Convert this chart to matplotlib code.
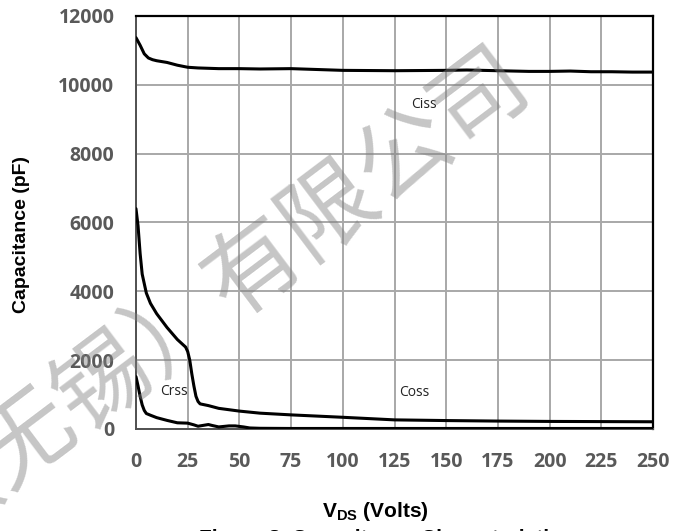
import numpy as np
import matplotlib.pyplot as plt

# capacitance vs drain-source voltage ----
ciss_v = [0, 2, 4, 6, 8, 10, 15, 20, 25, 30, 40, 50, 60, 75, 90, 100, 125,
          150, 160, 175, 190, 200, 210, 220, 230, 240, 250]
ciss_pf = [11370, 11150, 10900, 10780, 10730, 10700, 10650, 10570, 10510,
           10490, 10470, 10470, 10460, 10470, 10440, 10420, 10410, 10420,
           10430, 10410, 10390, 10390, 10400, 10380, 10380, 10370, 10370]

coss_v = [0, 1, 2, 3, 5, 7, 10, 15, 20, 24, 25, 26, 27, 28, 29, 30, 31, 35,
          40, 50, 60, 75, 100, 125, 150, 175, 200, 225, 250]
coss_pf = [6400, 5900, 5100, 4500, 3950, 3650, 3350, 2950, 2600, 2380, 2250,
           2000, 1600, 1250, 950, 800, 730, 680, 600, 520, 460, 410, 340,
           265, 245, 230, 220, 215, 210]

crss_v = [0, 1, 2, 3, 4, 5, 7, 10, 15, 20, 25, 28, 30, 33, 35, 37, 40, 45,
          48, 52, 55, 60, 75, 100, 150, 200, 250]
crss_pf = [1520, 1250, 950, 700, 540, 450, 400, 330, 250, 180, 170, 120, 80,
           110, 130, 100, 60, 90, 90, 60, 30, 20, 15, 15, 15, 15, 15]

x_ticks = [0, 25, 50, 75, 100, 125, 150, 175, 200, 225, 250]
y_ticks = [0, 2000, 4000, 6000, 8000, 10000, 12000]

# curve name tags (left edge V, pF)
tags = ['Ciss', 'Coss', 'Crss']
tag_v = [133, 127, 11.5]
tag_pf = [9420, 1060, 1080]

plt.rcParams['mathtext.fontset'] = 'custom'
plt.rcParams['mathtext.rm'] = 'Liberation Sans:bold'
plt.rcParams['mathtext.bf'] = 'Liberation Sans:bold'

fig = plt.figure(figsize=(6.83, 5.31), dpi=100)
ax = fig.add_axes([0.1991, 0.1921, 0.7570, 0.7778])

for v, c in [(ciss_v, ciss_pf), (coss_v, coss_pf), (crss_v, crss_pf)]:
    ax.plot(v, c, color='black', lw=2.2, zorder=3, solid_capstyle='round')

for t, v, c in zip(tags, tag_v, tag_pf):
    ax.text(v, c, t, fontsize=10, family='Open Sans', color='#222222',
            ha='left', va='center', zorder=4)

ax.set_xlim(0, 250)
ax.set_ylim(0, 12000)
ax.set_xticks(x_ticks)
ax.set_yticks(y_ticks)
ax.grid(True, color='#a8a8a8', lw=1.4)
ax.set_axisbelow(True)
ax.tick_params(length=0, labelsize=14, labelcolor='#595959')
ax.tick_params(axis='x', pad=16.5)
ax.tick_params(axis='y', pad=15.5)
for lab in ax.get_xticklabels() + ax.get_yticklabels():
    lab.set_family('Open Sans')
    lab.set_fontweight('bold')

for side in ['top', 'right']:
    ax.spines[side].set_color('black')
    ax.spines[side].set_linewidth(1.6)
for side in ['left', 'bottom']:
    ax.spines[side].set_color('#505050')
    ax.spines[side].set_linewidth(1.4)

fig.text(0.031, 0.559, 'Capacitance (pF)', rotation=90, ha='center',
         va='center', fontsize=14, family='Liberation Sans', weight='bold')
fig.text(0.549, 0.027, r'V$_{\mathrm{DS}}$ (Volts)', ha='center',
         va='baseline', fontsize=15, family='Liberation Sans', weight='bold')
# caption sits mostly below the bottom edge
fig.text(0.565, -0.024, 'Figure 8. Capacitance Characteristics',
         ha='center', va='baseline', fontsize=15, family='Liberation Sans',
         weight='bold')

# company watermark
fig.text(0.300, 0.510, '（无锡）有限公司', rotation=37, rotation_mode='anchor',
         ha='center', va='center', fontsize=68, family='Noto Sans CJK SC',
         color='#808080', alpha=0.45, zorder=10)

plt.savefig('out.png', dpi=100)
